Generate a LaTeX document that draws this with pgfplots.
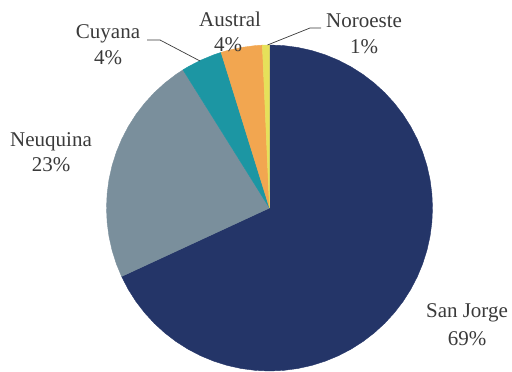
\documentclass[border=0pt]{standalone}
\usepackage{pgfplots}
\pgfplotsset{compat=1.18}
\usepackage{fontspec}
\setmainfont{Liberation Serif}
\definecolor{sj}{HTML}{243568}
\definecolor{neu}{HTML}{7A8F9C}
\definecolor{cuy}{HTML}{1C96A3}
\definecolor{aus}{HTML}{F2A650}
\definecolor{nor}{HTML}{E6E15A}
\definecolor{txt}{HTML}{3A3A3A}
\begin{document}
% shares: San Jorge 68.1, Neuquina 23.0, Cuyana 4.1, Austral 4.1, Noroeste 0.7 (percent)
% slices in polar coordinates (angle in degrees, radius 163), clockwise from 12 o'clock
\begin{tikzpicture}
\begin{axis}[scale only axis, width=512bp, height=372bp,
  xmin=-269.5, xmax=242.5, ymin=-164, ymax=208,
  hide axis, clip=false,
  every axis plot/.append style={data cs=polar, mark=none, line width=0.4pt}]
\path (rel axis cs:0,0) rectangle (rel axis cs:1,1);
\addplot[fill=sj, draw=sj] coordinates {(0,0) (90,163) (85,163) (80,163) (75,163) (70,163) (65,163) (60,163) (55,163) (50,163) (45,163) (40,163) (35,163) (30,163) (25,163) (20,163) (15,163) (10,163) (5,163) (0,163) (-5,163) (-10,163) (-15,163) (-20,163) (-25,163) (-30,163) (-35,163) (-40,163) (-45,163) (-50,163) (-55,163) (-60,163) (-65,163) (-70,163) (-75,163) (-80,163) (-85,163) (-90,163) (-95,163) (-100,163) (-105,163) (-110,163) (-115,163) (-120,163) (-125,163) (-130,163) (-135,163) (-140,163) (-145,163) (-150,163) (-155.16,163) (0,0)};
\addplot[fill=neu, draw=neu] coordinates {(0,0) (204.84,163) (200,163) (195,163) (190,163) (185,163) (180,163) (175,163) (170,163) (165,163) (160,163) (155,163) (150,163) (145,163) (140,163) (135,163) (130,163) (125,163) (122.04,163) (0,0)};
\addplot[fill=cuy, draw=cuy] coordinates {(0,0) (122.04,163) (120,163) (115,163) (110,163) (107.28,163) (0,0)};
\addplot[fill=aus, draw=aus] coordinates {(0,0) (107.28,163) (105,163) (100,163) (95,163) (92.52,163) (0,0)};
\addplot[fill=nor, draw=nor] coordinates {(0,0) (92.52,163) (90,163) (0,0)};
% leader lines
\draw[txt, line width=0.7pt] (axis cs:-122.5,168) -- (axis cs:-109.5,168) -- (axis cs:-69.5,147);
\draw[txt, line width=0.7pt] (axis cs:-2,163) -- (axis cs:40.5,180) -- (axis cs:51.5,180);
% labels
\tikzset{lab/.style={anchor=base, text=txt, inner sep=0pt, font=\rmfamily\fontsize{21bp}{25bp}\selectfont}}
\node[lab] at (axis cs:-161.5,169) {Cuyana};
\node[lab] at (axis cs:-161.5,143) {4\%};
\node[lab] at (axis cs:-39.5,181) {Austral};
\node[lab] at (axis cs:-41.5,156) {4\%};
\node[lab] at (axis cs:94.5,180) {Noroeste};
\node[lab] at (axis cs:94.5,154) {1\%};
\node[lab] at (axis cs:-218.5,61) {Neuquina};
\node[lab] at (axis cs:-218.5,36) {23\%};
\node[lab] at (axis cs:197.5,-110) {San Jorge};
\node[lab] at (axis cs:197.5,-137) {69\%};
\end{axis}
\end{tikzpicture}
\end{document}
